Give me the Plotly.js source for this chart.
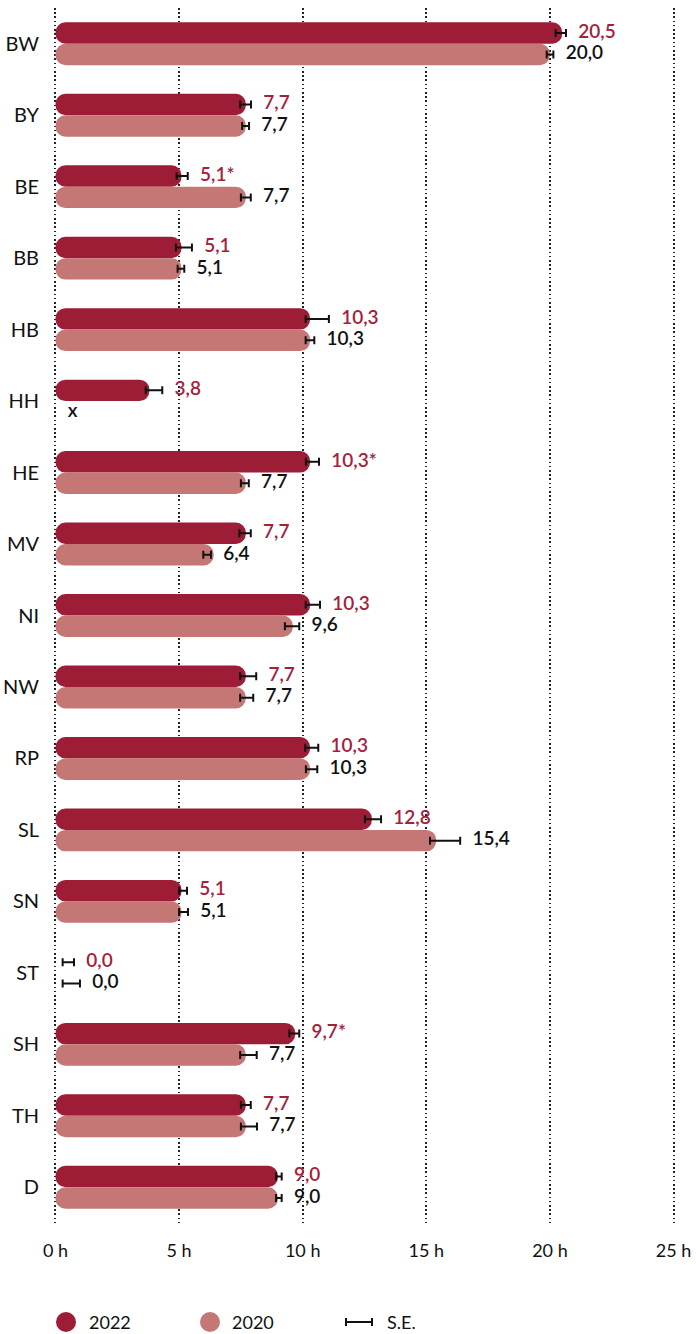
<!DOCTYPE html>
<html><head><meta charset="utf-8">
<script src="https://cdn.plot.ly/plotly-3.0.1.min.js"></script>
<style>html,body{margin:0;padding:0;background:#fff}#chart{width:696px;height:1334px}</style>
</head><body><div id="chart"></div>
<script>
// ---- data ----
const categories = ['BW','BY','BE','BB','HB','HH','HE','MV','NI','NW','RP','SL','SN','ST','SH','TH','D'];
const val2022 = [20.5,7.7,5.1,5.1,10.3,3.8,10.3,7.7,10.3,7.7,10.3,12.8,5.1,0.0,9.7,7.7,9.0];
const val2020 = [20.0,7.7,7.7,5.1,10.3,null,7.7,6.4,9.6,7.7,10.3,15.4,5.1,0.0,7.7,7.7,9.0];
const star2022 = [0,0,1,0,0,0,1,0,0,0,0,0,0,0,1,0,0];
// S.E. whisker extents (below / above the value)
const seLo2022 = [0.27,0.23,0.20,0.23,0.18,0.15,0.17,0.26,0.18,0.23,0.20,0.28,0.10,-0.29,0.24,0.20,0.08];
const seHi2022 = [0.15,0.21,0.25,0.42,0.76,0.52,0.36,0.20,0.40,0.42,0.33,0.37,0.22,0.75,0.16,0.20,0.15];
const seLo2020 = [0.13,0.15,0.20,0.16,0.18,null,0.20,0.42,0.32,0.23,0.17,0.25,0.10,-0.29,0.23,0.20,0.08];
const seHi2020 = [0.14,0.13,0.20,0.11,0.17,null,0.12,-0.11,0.26,0.30,0.29,0.97,0.26,0.99,0.44,0.45,0.15];
const seriesNames = ['2022','2020','S.E.'];
const tickValsX = [0,5,10,15,20,25];
const tickTextX = ['0 h','5 h','10 h','15 h','20 h','25 h'];
const missingLabel = 'x';

// ---- styling ----
const DARK = '#9e1d36', LIGHT = '#c47775', RED_TEXT = '#a5203b', BLACK = '#111111';
const FONT = 'Lato, "Open Sans", sans-serif';
const BW = 0.3;

const idx = categories.map((_, i) => i);
const fmt = (v, s) => v == null ? missingLabel : v.toFixed(1).replace('.', ',') + (s ? '*' : '');

function pill(vals, color, offset) {
  return {type: 'bar', orientation: 'h', y: idx, x: vals, base: vals.map(v => v == null ? null : 0),
    offset: offset, width: BW,
    marker: {color: color, cornerradius: '50%', line: {width: 0}}, hoverinfo: 'skip', showlegend: false};
}
function whisker(vals, lo, hi, dy) {
  return {type: 'scatter', mode: 'markers', x: vals, y: idx.map(i => i + dy),
    marker: {size: 1, opacity: 0}, hoverinfo: 'skip', showlegend: false,
    error_x: {type: 'data', symmetric: false, array: hi, arrayminus: lo, color: BLACK, thickness: 2, width: 4}};
}
function labels(vals, hi, stars, color, dy) {
  return {type: 'scatter', mode: 'markers+text', cliponaxis: false,
    x: vals.map((v, i) => (v == null ? 0 : v) + (hi[i] == null ? 0 : hi[i])),
    y: idx.map(i => i + dy),
    text: vals.map((v, i) => fmt(v, stars && stars[i])),
    textposition: 'middle right',
    textfont: {family: FONT, size: 19, color: color, weight: 600},
    marker: {size: 18, opacity: 0}, hoverinfo: 'skip', showlegend: false};
}

const data = [
  pill(val2022, DARK, -BW),
  pill(val2020, LIGHT, 0),
  whisker(val2022, seLo2022, seHi2022, -BW / 2),
  whisker(val2020, seLo2020, seHi2020, BW / 2),
  labels(val2022, seHi2022, star2022, RED_TEXT, -BW / 2),
  labels(val2020, seHi2020, null, BLACK, BW / 2)
];

// manual legend
const L = 53, T = 8, PW = 623, PH = 1215;
const px = x => (x - L) / PW, py = y => (T + PH - y) / PH;
const legY = py(1322);
const shapes = [
  {type: 'circle', xref: 'paper', yref: 'paper', xsizemode: 'pixel', ysizemode: 'pixel',
   xanchor: px(66), yanchor: legY, x0: -10, x1: 10, y0: -10, y1: 10, fillcolor: DARK, line: {width: 0}},
  {type: 'circle', xref: 'paper', yref: 'paper', xsizemode: 'pixel', ysizemode: 'pixel',
   xanchor: px(210), yanchor: legY, x0: -10, x1: 10, y0: -10, y1: 10, fillcolor: LIGHT, line: {width: 0}},
  {type: 'line', xref: 'paper', yref: 'paper', x0: px(345), x1: px(373), y0: legY, y1: legY, line: {color: BLACK, width: 2}},
  {type: 'line', xref: 'paper', yref: 'paper', ysizemode: 'pixel', yanchor: legY, x0: px(346), x1: px(346), y0: -4, y1: 4, line: {color: BLACK, width: 2}},
  {type: 'line', xref: 'paper', yref: 'paper', ysizemode: 'pixel', yanchor: legY, x0: px(372), x1: px(372), y0: -4, y1: 4, line: {color: BLACK, width: 2}}
];
const legX = [87, 230, 385];
const annotations = seriesNames.map((n, i) => ({xref: 'paper', yref: 'paper', x: px(legX[i]), y: legY,
  xanchor: 'left', yanchor: 'middle', text: n, showarrow: false, font: {family: FONT, size: 18, color: BLACK}}));

const layout = {
  width: 696, height: 1334,
  margin: {l: L, r: 696 - L - PW, t: T, b: 1334 - T - PH},
  paper_bgcolor: '#fff', plot_bgcolor: '#fff',
  barmode: 'overlay', showlegend: false,
  font: {family: FONT, color: BLACK},
  xaxis: {range: [-0.1, 25.1], tickvals: tickValsX, ticktext: tickTextX, showgrid: true,
    gridcolor: '#222', gridwidth: 2, griddash: '1.6px,2.6px', zeroline: false, showline: false,
    ticks: 'outside', ticklen: 11, tickcolor: 'rgba(0,0,0,0)', tickfont: {family: FONT, size: 18, color: BLACK}, fixedrange: true},
  yaxis: {range: [categories.length - 0.5, -0.5], tickvals: idx, ticktext: categories, showgrid: false,
    zeroline: false, showline: false, ticks: 'outside', ticklen: 9, tickcolor: 'rgba(0,0,0,0)',
    tickfont: {family: FONT, size: 20, color: BLACK}, fixedrange: true},
  shapes: shapes,
  annotations: annotations
};
Plotly.newPlot('chart', data, layout, {displayModeBar: false, staticPlot: true});
</script></body></html>
